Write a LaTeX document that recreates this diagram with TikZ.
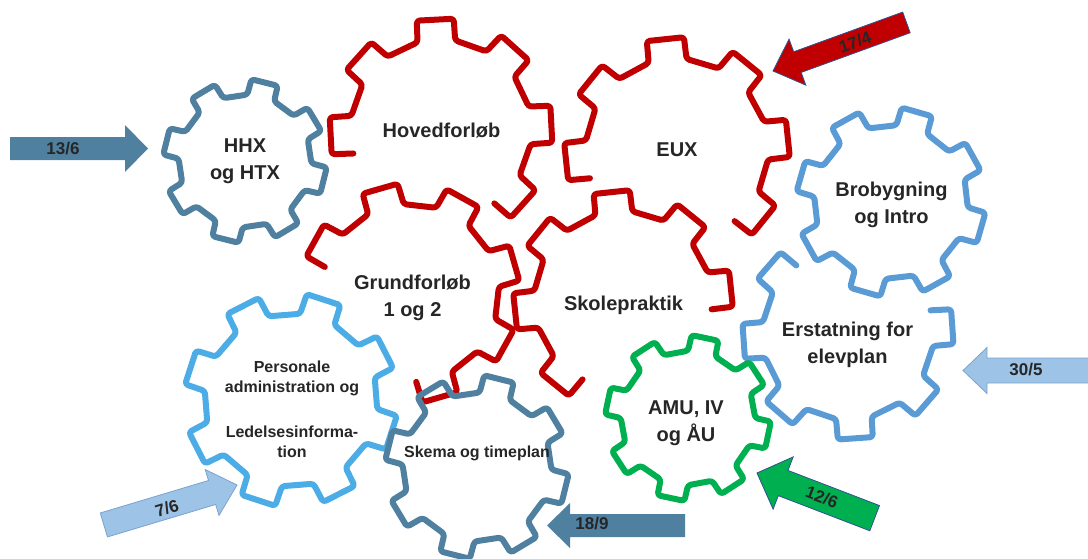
\documentclass[tikz,border=0pt]{standalone}
\usepackage{fontspec}
\setmainfont{Liberation Sans}
\definecolor{gred}{HTML}{C00000}
\definecolor{gsteel}{RGB}{80,128,160}
\definecolor{glight}{RGB}{75,172,230}
\definecolor{gmid}{HTML}{5B9BD5}
\definecolor{ggreen}{HTML}{00B050}
\definecolor{apale}{HTML}{9DC3E6}
\definecolor{aedge}{HTML}{7BA3CF}
\definecolor{dedge}{HTML}{2F528F}
\definecolor{txt}{HTML}{262626}
% #1 colour, #2 cx, #3 cy, #4 R, #5 phase, #6 first tooth, #7 last tooth, #8 closing
\newcommand\gearshape[8]{%
  \pgfmathtruncatemacro\glast{#7-1}%
  \draw[gearline,#1] ({#2+0.81*#4*cos(#5+45*#6-12)},{#3+0.81*#4*sin(#5+45*#6-12)})
    \foreach \k in {#6,...,\glast}{
      -- ({#2+#4*cos(#5+45*\k-9.5)},{#3+#4*sin(#5+45*\k-9.5)})
      -- ({#2+#4*cos(#5+45*\k+9.5)},{#3+#4*sin(#5+45*\k+9.5)})
      -- ({#2+0.81*#4*cos(#5+45*\k+12)},{#3+0.81*#4*sin(#5+45*\k+12)})
      -- ({#2+0.81*#4*cos(#5+45*(\k+1)-12)},{#3+0.81*#4*sin(#5+45*(\k+1)-12)})
    }
    -- ({#2+#4*cos(#5+45*#7-9.5)},{#3+#4*sin(#5+45*#7-9.5)})
    -- ({#2+#4*cos(#5+45*#7+9.5)},{#3+#4*sin(#5+45*#7+9.5)})
    -- ({#2+0.81*#4*cos(#5+45*#7+12)},{#3+0.81*#4*sin(#5+45*#7+12)}) #8;
}
% #1 style, #2 tip x, #3 tip y, #4 angle, #5 length, #6 half shaft, #7 half head, #8 head length
\newcommand\blockarrow[8]{%
  \begin{scope}[shift={(#2,#3)}, rotate=#4]
    \path[#1] (0,0) -- (-#8,#7) -- (-#8,#6) -- (-#5,#6) -- (-#5,-#6) -- (-#8,-#6) -- (-#8,-#7) -- cycle;
  \end{scope}}
\begin{document}
\begin{tikzpicture}[x=1pt,y=-1pt,
  gearline/.style={line width=6pt, rounded corners=3pt, line cap=round, line join=round},
  gtext/.style={font=\bfseries\fontsize{20}{27}\selectfont, text=txt, align=center, inner sep=0pt},
  ptext/.style={font=\bfseries\fontsize{16}{20}\selectfont, text=txt, align=center, inner sep=0pt},
  alabel/.style={font=\bfseries\fontsize{17}{20}\selectfont, text=txt, inner sep=0pt}]
\useasboundingbox (0,0) rectangle (1088,558);

% gears
\gearshape{gsteel}{245}{161}{82}{14}{0}{7}{-- cycle}
\gearshape{gred}{441}{130}{112}{42}{3}{8}{}
\gearshape{gred}{677}{150}{113}{39}{3}{8}{}
\gearshape{gred}{410}{293}{110}{29}{4}{9}{}
\gearshape{gred}{623}{300}{110}{39}{2}{7}{}
\gearshape{glight}{291}{400}{107}{18}{0}{7}{-- cycle}
\gearshape{gmid}{891}{202}{95}{16}{0}{7}{-- cycle}
\gearshape{gmid}{848}{334}{106}{-4}{8}{13}{}
\gearshape{ggreen}{688}{418}{83}{12}{0}{7}{-- cycle}
\gearshape{gsteel}{477}{467}{92}{14}{0}{7}{-- cycle}

% gear texts
\node[gtext] (hhx) at (245,161.5) {HHX\\og HTX};
\node[gtext] (hoved) at (441.5,130.7) {Hovedforløb};
\node[gtext] (eux) at (677,149.8) {EUX};
\node[gtext] (grund) at (412.5,298.3) {Grundforløb\\1 og 2};
\node[gtext] (skole) at (623.5,305.8) {Skolepraktik};
\node[gtext] (bro) at (891.5,205.3) {Brobygning\\og Intro};
\node[gtext] (erst) at (847.5,344.8) {Erstatning for\\elevplan};
\node[gtext] (amu) at (686,423.5) {AMU, IV\\og ÅU};
\node[ptext] (pers) at (292,409) {Personale\\administration og\\[25pt]Ledelsesinforma-\\tion};
\node[ptext] (skema) at (477,453) {Skema og timeplan};

% block arrows
\blockarrow{fill=gsteel}{148}{148.5}{0}{138}{11.5}{23.5}{23}
\blockarrow{fill=gred, draw=dedge, line width=0.8pt}{773}{71}{200}{142}{11}{24.5}{26}
\blockarrow{fill=ggreen, draw=dedge, line width=0.8pt}{757}{473}{159}{126}{13.5}{28}{28}
\blockarrow{fill=apale, draw=aedge, line width=0.8pt}{237}{485}{16.7}{139}{12.5}{24}{26}
\blockarrow{fill=gsteel}{547}{525.5}{180}{138}{11.5}{22.5}{23}
\blockarrow{fill=apale, draw=aedge, line width=0.8pt}{963}{370.5}{180}{135}{12.5}{23}{24}

% arrow labels
\node[alabel] (l136) at (63,148.5) {13/6};
\node[alabel, rotate=20] (l174) at (855,42) {17/4};
\node[alabel, rotate=-21] (l126) at (822,497) {12/6};
\node[alabel, rotate=16.7] (l76) at (167,508) {7/6};
\node[alabel] (l189) at (592,524) {18/9};
\node[alabel] (l305) at (1026,369.5) {30/5};
\end{tikzpicture}
\end{document}
